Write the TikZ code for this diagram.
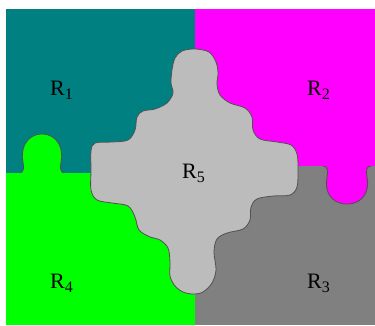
\documentclass[tikz,border=0pt]{standalone}
\usepackage{fontspec}
\setmainfont{Liberation Serif}
\definecolor{tealR}{RGB}{0,128,128}
\definecolor{magR}{RGB}{255,0,255}
\definecolor{greenR}{RGB}{0,255,0}
\definecolor{grayR}{RGB}{128,128,128}
\definecolor{silverR}{RGB}{188,188,188}
\definecolor{edgeR}{RGB}{80,80,80}
\tikzset{
  edge/.style={draw=edgeR, line width=0.8pt},
  lbl/.style={anchor=base west, inner sep=0pt, font=\fontsize{22}{22}\selectfont},
}
\newcommand{\reg}[1]{R\raisebox{-4pt}{\fontsize{16}{16}\selectfont #1}}
\begin{document}
\begin{tikzpicture}[x=1pt,y=-1pt]
\useasboundingbox (0,0) rectangle (375,325);
\fill[white] (0,0) rectangle (375,325);
\fill[tealR] (6,9) rectangle (195,173);
\fill[magR] (195,9) rectangle (375,166);
\fill[grayR] (195,166) rectangle (375,325);
\fill[greenR] (6,173) rectangle (195,325);
% green knob into R1
\path[fill=greenR, edge] (19,173) .. controls (24,173) and (24,168) .. (23,162)
  .. controls (20,150) and (26,134) .. (42,134)
  .. controls (58,134) and (64,150) .. (61,162)
  .. controls (60,168) and (60,173) .. (65,173);
\fill[greenR] (18,173.4) rectangle (66,176);
% magenta knob into R3
\path[fill=magR, edge] (323,166) .. controls (328,166) and (328,171) .. (327,177)
  .. controls (324,191) and (331,204) .. (347,204)
  .. controls (363,204) and (370,191) .. (367,177)
  .. controls (366,171) and (366,166) .. (371,166);
\fill[magR] (322,163) rectangle (372,165.6);
% central piece R5
\path[fill=silverR, edge] plot[smooth cycle, tension=0.55] coordinates {
(195,49) (209,52) (216,62) (218,73) (217,84) (220,95) (230,103) (245,108)
(252,117) (253,130) (260,139) (277,142) (291,145) (297,154) (298,170)
(297,187) (290,195) (273,196) (257,199) (251,207) (250,220) (243,229)
(227,233) (217,239) (214,252) (216,270) (212,283) (203,292) (193,294)
(183,292) (175,286) (170,276) (170,262) (168,248) (160,240) (150,237)
(139,230) (135,217) (128,206) (112,203) (97,200) (91,190) (91,170)
(91,151) (95,143) (112,142) (128,140) (135,130) (137,117) (143,111)
(155,109) (167,103) (173,93) (171,83) (172,70) (175,58) (182,51)};
\node[lbl] (r1) at (50,95) {\reg{1}};
\node[lbl] (r2) at (307,95) {\reg{2}};
\node[lbl] (r5) at (182,178) {\reg{5}};
\node[lbl] (r4) at (50,288) {\reg{4}};
\node[lbl] (r3) at (307,288) {\reg{3}};
\end{tikzpicture}
\end{document}
